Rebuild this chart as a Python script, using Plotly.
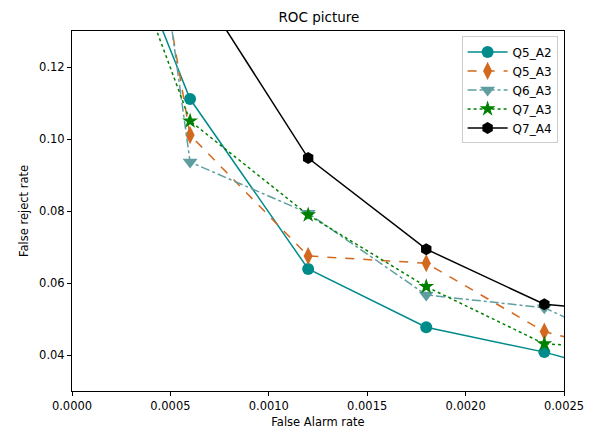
import plotly.graph_objects as go

false_alarm = [0.0, 0.0006, 0.0012, 0.0018, 0.0024, 0.0030]
q5_a2 = [0.193, 0.1111, 0.0639, 0.0477, 0.0408, 0.0318]
q5_a3 = [0.291, 0.1011, 0.0675, 0.0655, 0.0465, 0.0381]
q6_a3 = [0.333, 0.0936, 0.0794, 0.0567, 0.0531, 0.0381]
q7_a3 = [0.1936, 0.1050, 0.0789, 0.0590, 0.0431, 0.0413]
q7_a4 = [0.260, 0.146, 0.0947, 0.0694, 0.0541, 0.0511]

series = [
    ("Q5_A2", q5_a2, "#008B8B", "solid", "circle", 12),
    ("Q5_A3", q5_a3, "#D2691E", "dash", "diamond-tall", 13),
    ("Q6_A3", q6_a3, "#5F9EA0", "dashdot", "triangle-down", 13),
    ("Q7_A3", q7_a3, "#008000", "dot", "star", 12),
    ("Q7_A4", q7_a4, "#000000", "solid", "hexagon", 12),
]

fig = go.Figure()
for name, ys, color, dash, sym, size in series:
    fig.add_trace(go.Scatter(
        x=false_alarm, y=ys, name=name, mode="lines+markers",
        line=dict(color=color, width=1.5, dash=dash),
        marker=dict(symbol=sym, size=size, color=color, line=dict(width=0)),
        cliponaxis=True,
    ))

font = "DejaVu Sans"
fig.update_layout(
    width=596, height=432,
    margin=dict(l=72, r=32, t=31, b=41, autoexpand=False),
    paper_bgcolor="white", plot_bgcolor="white",
    font=dict(family=font, size=11.5, color="#000"),
    title=dict(text="ROC picture", x=0.535, xanchor="center", y=0.96, yanchor="middle",
               font=dict(size=13.5, family=font)),
    showlegend=True,
    legend=dict(x=0.987, xanchor="right", y=0.985, yanchor="top",
                bordercolor="#cccccc", borderwidth=1, bgcolor="rgba(255,255,255,0.8)",
                font=dict(size=12, family=font), itemsizing="trace", itemwidth=40,
                tracegroupgap=0),
)
fig.update_xaxes(
    range=[0, 0.0025], tickvals=[0, 0.0005, 0.001, 0.0015, 0.002, 0.0025],
    ticktext=["0.0000", "0.0005", "0.0010", "0.0015", "0.0020", "0.0025"],
    showgrid=False, zeroline=False, showline=True, mirror=True, linecolor="#000", linewidth=1,
    ticks="outside", ticklen=4, tickcolor="#000", automargin=False,
    title=dict(text="False Alarm rate", font=dict(size=11.5, family=font), standoff=6),
)
fig.update_yaxes(
    range=[0.03, 0.13], tickvals=[0.04, 0.06, 0.08, 0.10, 0.12],
    ticktext=["0.04", "0.06", "0.08", "0.10", "0.12"],
    showgrid=False, zeroline=False, showline=True, mirror=True, linecolor="#000", linewidth=1,
    ticks="outside", ticklen=4, tickcolor="#000", automargin=False,
    title=dict(text="False reject rate", font=dict(size=11.5, family=font), standoff=8),
)

fig.write_html("out.html")
